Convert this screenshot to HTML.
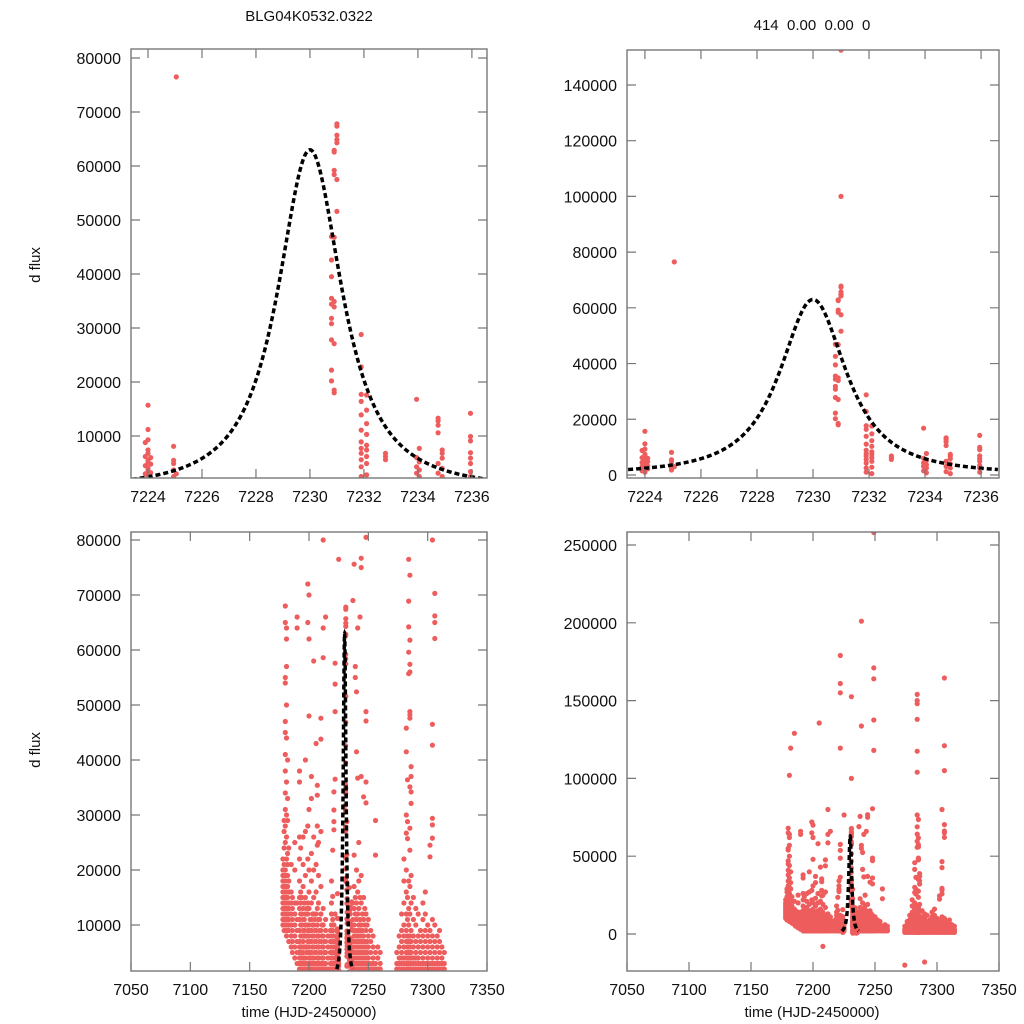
<!DOCTYPE html>
<html><head><meta charset="utf-8"><style>
html,body{margin:0;padding:0;background:#fff;width:1024px;height:1024px;overflow:hidden;position:relative;}
svg{position:absolute;left:0;top:0;display:block;font-family:"Liberation Sans",Arial,sans-serif;}
script{display:none;}
</style></head><body>
<svg id="chart" width="1024" height="1024" viewBox="0 0 1024 1024" xmlns="http://www.w3.org/2000/svg" overflow="hidden">
<rect width="1024" height="1024" fill="#fff"/>
<text x="309" y="21" font-size="15" text-anchor="middle" fill="#111">BLG04K0532.0322</text>
<text x="812" y="30" font-size="15" text-anchor="middle" fill="#111" xml:space="preserve">414  0.00  0.00  0</text>
<text transform="translate(40,265) rotate(-90)" font-size="15" text-anchor="middle" fill="#111">d flux</text>
<text transform="translate(40,750) rotate(-90)" font-size="15" text-anchor="middle" fill="#111">d flux</text>
<text x="309" y="1017" font-size="15" text-anchor="middle" fill="#111">time (HJD-2450000)</text>
<text x="812" y="1017" font-size="15" text-anchor="middle" fill="#111">time (HJD-2450000)</text>
</svg>
<script>
// ---- data ----
const nightTimes = [7178,7179,7180,7181,7182,7183,7185,7186,7188,7190,
7192,7193,7194,7195,7196,7197,7198,7199,7200,7201,7202,7203,7204,7205,7206,7207,7208,7209,7210,7211,7212,7213,7214,7216,
7218,7219,7220,7221,7222,
7223.9,7224.0,7224.1,7224.95,7225.05,7230.8,7230.9,7231.0,7231.9,7232.1,7232.8,7233.95,7234.05,7234.75,7234.9,7235.95,
7237,7238,7239,7240,7241,7242,7243,7244,7245,7246,7247,7248,7249,7250,7252,7254,7256,7258,7260,
7274,7276,7278,7280,7282,7283,7284,7285,7286,7288,7290,7292,7294,7296,7298,7300,7302,7304,7306,7308,7310,7312,7314];
const nightFluxK = [
[10,11,12,13,14,15,16,17,18,19,20,22],
[9,11,12,13,14,15,16,17,19,21,24,27,29],
[9,10,11,12,13,14,15,16,17,18,19,20,25,28,31,34,38,41,45,47,54,55,65,68],
[8,10,11,12,13,14,15,16,17,19,22,26,30,36,44,50,57,62,64,102],
[9,11,12,13,15,17,19,21,23,29,33,40,119.5],
[7,9,10,11,12,13,14,16,18,24],
[6,8,10,12,14,16,21,129],
[5,7,9,11,13,15],
[4,6,8,10,12,14,20,25],
[3,5,7,9,11,14,64,66],
[2,3,4,5,6,7,9,11,13,15,18,22,26,36,38],
[2,3,4,5,6,8,10,12,14,16,24],
[2,3,4,6,8,10,12,15],
[2,3,4,5,7,9,11,13,17,21,26],
[2,3,4,6,8,9,11,14],
[2,3,4,6,8,10,12,15,19,27,40],
[2,3,5,6,8,10,13],
[2,3,5,7,9,12,14,22,28,65,72],
[2,3,4,6,8,10,13,16,20,31,48,62,70],
[2,3,4,5,7,9,11],
[2,3,5,7,9,11,14,18,23,33,37],
[2,3,4,6,8,10,12],
[2,3,4,6,8,10,12,15,20,26,58],
[2,3,5,7,9,11,135.6],
[2,3,5,7,9,12,16,21,43],
[2,3,4,6,8,10,13,24.5,28,33.6,35.4],
[2,3,4,6,8,11,14,19,25,-8],
[2,3,5,7,9,11],
[2,3,5,7,9,12,17,27,43.8,47.6],
[2,3,4,6,8,10],
[2,3,4,6,8,10,13,58.6,64,80],
[2,3,5,7],
[2,3,5,7,9,11,66],
[2,4,6,8],
[2,3,5,7,9],
[2,3,4,6,8,10,12,14,18],
[2,3,5,7,9,11,15.2,23.6],
[2,3,4,6,8,10,27.3,28.8,30.9,34.2],
[2,3,5,7,12,36.5,48.8,53.8,57.6,119.5,155,161,179],
[8.8,6.2,4.5,3.0,1.5],
[15.7,11.2,9.3,7.4,6.8,5.5,5.0,4.0,3.5,2.5,2.0,1.0],
[6.0,4.8,3.2,2.2],
[8.1,5.5,4.9,3.7,2.5,1.8],
[76.5,3.0],
[46.9,42.6,39.5,35.5,34.4,31.8,30.8,27.8,22.2,20.2],
[62.9,62.6,59.2,58.4,46.8,34.9,33.9,27.1,18.5,18.0],
[67.8,67.4,65.7,64.9,64.3,57.5,51.6,152.5,100],
[28.8,22.8,17.7,16.4,13.9,11.1,8.9,7.7,6.8,5.6,4.3,2.5,1.0],
[17.6,14.8,12.3,10.3,8.3,7.4,6.2,4.9,2.8,0.5],
[6.8,6.2,5.6],
[16.8,6.0,4.3,3.1,1.5],
[7.7,5.2,3.7,2.5,0.8],
[13.3,12.8,12.0,10.6,4.9,3.1,1.2],
[7.4,6.8,5.9,4.0,2.5,0.5],
[14.2,9.9,9.1,6.9,5.9,4.9,3.4,2.5,1.0],
[2,3,5,7,9,11,14,69],
[2,3,4,6,8,10,13,17,22.7,75.6],
[2,3,5,7,9,12,15,55,57,133.7,201],
[2,3,4,6,8,11,14,20,41.5,52.4],
[2,3,5,7,9,12,16,36.7,64],
[2,3,4,6,8,10,13,18,25],
[2,3,5,7,9,11,15,66],
[2,3,4,6,8,10,14,19,37,75,76.7],
[2,3,5,7,9,12],
[2,3,4,6,8,11,15,33.3],
[2,3,5,7,10,13],
[2,3,4,6,9,12,32.2,36,47.1,48.8,80.5],
[2,3,5,7,10,118,137.5,164,171,258],
[2,3,4,6,8,11],
[2,3,5,7,9],
[2,3,4,6,8],
[2,3,5,22.7,29],
[2,4,6],
[2,3,5],
[1,2,3,5,-20],
[1,2,3,4,6,8],
[1,2,3,4,5,7,9,12],
[1,2,3,4,6,8,10,14,18,22],
[1,2,3,4,5,7,9,12,16,20,26.7,30,41.5,45.8],
[1,2,3,4,6,8,11,15,25.7,28.8,36.4],
[1,2,3,4,5,7,10,13,18,55.7,59.6,64.2,68.9,76.5,104,117.5,138,148,150,154],
[1,2,3,4,6,8,12,17,23.6,27.6,35.1,47.6,48.2,48.8,56,57.4,61.8,73.6],
[1,2,3,4,5,7,9,14,19,32.1,34.2,37,38.8],
[1,2,3,4,6,8,11,15],
[1,2,3,4,5,7,10,13,-18],
[1,2,3,4,6,8,12],
[1,2,3,5,7,9],
[1,2,3,4,6,8,11,14],
[1,2,3,5,7,9,12,16],
[1,2,3,4,6,8,10],
[1,2,3,5,7,9,22.4,24.5],
[1,2,3,4,6,8,11,25.8,28.2,29.4,42.7,46.5,80],
[1,2,3,5,7,10,62.1,65,66.2,70.3,105,121,164.5],
[1,2,3,4,6,8],
[1,2,3,5,7,9],
[1,2,3,4,6],
[1,2,3,5]
];
const modelT0 = 7230;
const modelPeakK = 63;
const modelWidth = 1.6;
const modelPow = 1.2;
const modelRange = [7223.4, 7236.6];
const tlXTicks = [7224,7226,7228,7230,7232,7234,7236];
const tlYTicks = [10000,20000,30000,40000,50000,60000,70000,80000];
const trYTicks = [0,20000,40000,60000,80000,100000,120000,140000];
const bXTicks = [7050,7100,7150,7200,7250,7300,7350];
const blYTicks = [10000,20000,30000,40000,50000,60000,70000,80000];
const brYTicks = [0,50000,100000,150000,200000,250000];

// ---- drawing ----
const NS = 'http://www.w3.org/2000/svg';
const svg = document.getElementById('chart');
function mk(tag, attrs, parent) {
  const e = document.createElementNS(NS, tag);
  for (const k in attrs) e.setAttribute(k, attrs[k]);
  (parent || svg).appendChild(e);
  return e;
}
function modelFlux(t) {
  const d = (t - modelT0) / modelWidth;
  return modelPeakK * 1000 * Math.pow(1 + d * d, -modelPow);
}
const panels = [
  {id:'top-left', x0:131, x1:487, y0:49, y1:478, xd:[7223.37,7236.56], yd:[2220,81670], xt:tlXTicks, yt:tlYTicks},
  {id:'top-right', x0:627, x1:999, y0:50, y1:478, xd:[7223.36,7236.64], yd:[-1080,152550], xt:tlXTicks, yt:trYTicks},
  {id:'bottom-left', x0:131, x1:487, y0:532, y1:971, xd:[7050,7350], yd:[1636,81455], xt:bXTicks, yt:blYTicks},
  {id:'bottom-right', x0:627, x1:999, y0:532, y1:971, xd:[7050,7350], yd:[-23780,258350], xt:bXTicks, yt:brYTicks}
];
panels.forEach((p, pi) => {
  const sx = v => p.x0 + (v - p.xd[0]) / (p.xd[1] - p.xd[0]) * (p.x1 - p.x0);
  const sy = v => p.y1 - (v - p.yd[0]) / (p.yd[1] - p.yd[0]) * (p.y1 - p.y0);
  const g = mk('g', {});
  
  
  const cp = mk('clipPath', {id: 'clip' + pi}, g);
  mk('rect', {x: p.x0, y: p.y0, width: p.x1 - p.x0, height: p.y1 - p.y0}, cp);
  const plot = mk('g', {'clip-path': 'url(#clip' + pi + ')'}, g);
  
  
  const pts = mk('g', {fill: '#ee5d5d'}, plot);
  
  
  nightTimes.forEach((t, i) => {
    const x = sx(t);
    if (x < p.x0 - 5 || x > p.x1 + 5) return;
    nightFluxK[i].forEach(f => {
      const y = sy(f * 1000);
      if (y < p.y0 - 5 || y > p.y1 + 5) return;
      const c = mk('circle', {cx: x.toFixed(1), cy: y.toFixed(1), r: 2.6}, pts);
      
      
    });
  });
  let d = '';
  const steps = 600;
  for (let k = 0; k <= steps; k++) {
    const t = modelRange[0] + (modelRange[1] - modelRange[0]) * k / steps;
    d += (k ? 'L' : 'M') + sx(t).toFixed(2) + ',' + sy(modelFlux(t)).toFixed(2);
  }
  const curve = mk('path', {d: d, fill: 'none', stroke: '#000', 'stroke-width': 3.5, 'stroke-dasharray': '5,3'}, plot);
  
  
  const box = mk('rect', {x: p.x0, y: p.y0, width: p.x1 - p.x0, height: p.y1 - p.y0, fill: 'none', stroke: '#777', 'stroke-width': 1.4}, g);
  
  
  p.xt.forEach(v => {
    const x = sx(v);
    const tk = mk('path', {d: `M${x},${p.y1}v-9M${x},${p.y0}v9`, stroke: '#777', 'stroke-width': 1.2}, g);
    
    
    const lb = mk('text', {x: x, y: p.y1 + 24, 'font-size': 16, 'text-anchor': 'middle', fill: '#111'}, g);
    lb.textContent = v;
    
    
  });
  p.yt.forEach(v => {
    const y = sy(v);
    const tk = mk('path', {d: `M${p.x0},${y}h9M${p.x1},${y}h-9`, stroke: '#777', 'stroke-width': 1.2}, g);
    
    
    const lb = mk('text', {x: p.x0 - 10, y: y + 6, 'font-size': 16, 'text-anchor': 'end', fill: '#111'}, g);
    lb.textContent = v;
    
    
  });
});
</script>
</body></html>
